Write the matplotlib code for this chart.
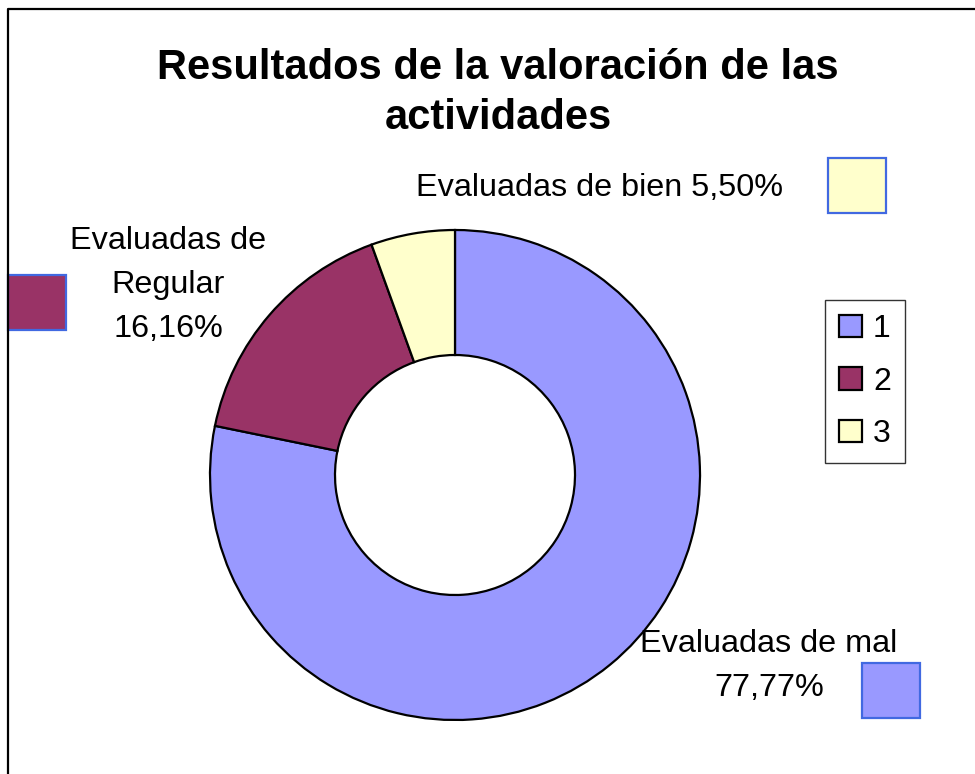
import matplotlib
matplotlib.use('Agg')
import matplotlib.pyplot as plt
from matplotlib.patches import Rectangle

plt.rcParams['font.family'] = ['Liberation Sans', 'DejaVu Sans']

# data
values = [77.77, 16.16, 5.50]
legend_labels = ['1', '2', '3']
colors = ['#9999FF', '#993366', '#FFFFCC']
title = 'Resultados de la valoración de las\nactividades'
label_texts = ['Evaluadas de mal\n77,77%', 'Evaluadas de\nRegular\n16,16%',
               'Evaluadas de bien 5,50%']

W, H = 975, 774
fig = plt.figure(figsize=(W / 100, H / 100), dpi=100)
ax = fig.add_axes([0, 0, 1, 1])

# pie in pixel coordinates (y measured from bottom)
wedges, _ = ax.pie(values, colors=colors, startangle=90, counterclock=False,
                   radius=245, center=(455, H - 475),
                   wedgeprops=dict(width=125, edgecolor='black', linewidth=1.6))
ax.set_xlim(0, W)
ax.set_ylim(0, H)
ax.set_aspect('equal')
ax.axis('off')

# chart border (only left and top visible)
ax.plot([8, 8, W + 5], [-5, H - 9, H - 9], color='black', lw=1.6, clip_on=False)

ax.text(498, H - 93, title, ha='center', va='center', fontsize=30,
        fontweight='bold', linespacing=1.35)

# data labels with colour keys
label_pos = [(769, H - 666), (168, H - 285), (599, H - 188)]
key_pos = [(862, H - 718), (8, H - 330), (828, H - 213)]
for txt, (x, y), (kx, ky), c in zip(label_texts, label_pos, key_pos, colors):
    ax.text(x, y, txt, ha='center', va='center', fontsize=23.3, linespacing=1.62)
    ax.add_patch(Rectangle((kx, ky), 58, 55, facecolor=c, edgecolor='#4169E1',
                           linewidth=1.6))

leg = ax.legend(wedges, legend_labels, loc='upper left',
                bbox_to_anchor=(825 / W, 1 - 300 / H), borderaxespad=0,
                fontsize=23, handlelength=0.7, handleheight=0.7,
                handletextpad=0.35, labelspacing=0.7, borderpad=0.45,
                fancybox=False, frameon=True)
leg.get_frame().set_edgecolor('black')
leg.get_frame().set_linewidth(1.0)

fig.savefig('out.png', dpi=100)
